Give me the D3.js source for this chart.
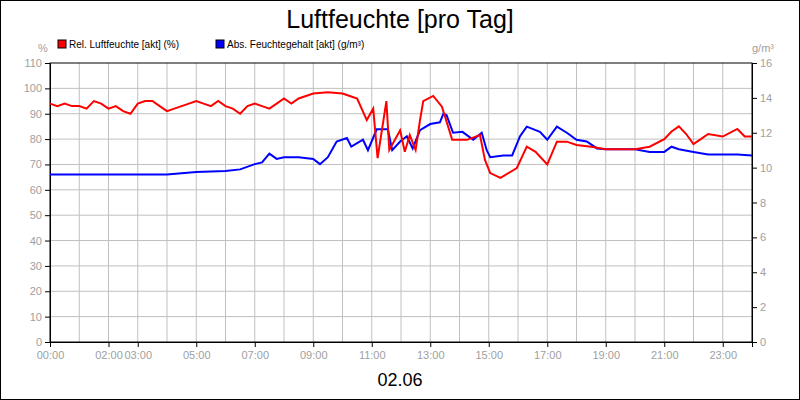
<!DOCTYPE html>
<html><head><meta charset="utf-8">
<script src="https://cdn.jsdelivr.net/npm/d3@7"></script>
<style>body{margin:0;background:#fff}text{font-family:"Liberation Sans",Arial,sans-serif}</style>
</head><body><svg id="gfx" width="800" height="400"></svg>
<script>
var tickHours = [0, 2, 3, 5, 7, 9, 11, 13, 15, 17, 19, 21, 23];
var leftTicks = [0, 10, 20, 30, 40, 50, 60, 70, 80, 90, 100, 110];
var rightTicks = [0, 2, 4, 6, 8, 10, 12, 14, 16];
var relHours = [0,0.25,0.5,0.75,1,1.25,1.5,1.75,2,2.25,2.5,2.75,3,3.25,3.5,3.75,4,4.25,4.5,4.75,5,5.25,5.5,5.75,6,6.25,6.5,6.75,7,7.25,7.5,7.75,8,8.25,8.5,8.75,9,9.5,10,10.25,10.5,10.83,11.05,11.2,11.5,11.6,11.97,12.13,12.3,12.5,12.65,12.76,13.1,13.4,13.75,14.25,14.7,14.87,15.05,15.4,15.96,16.3,16.6,17,17.33,17.67,18,18.5,19,19.5,20,20.5,21,21.25,21.5,21.75,22,22.25,22.5,23,23.5,23.75,24];
var relValues = [94,93,94,93,93,92,95,94,92,93,91,90,94,95,95,93,91,92,93,94,95,94,93,95,93,92,90,93,94,93,92,94,96,94,96,97,98,98.5,98,97,96,87.5,92,72.5,95,75.7,83.5,75,81.6,75.7,87.5,95,97,92.8,79.7,79.7,81.6,71.8,66.6,64.7,68.6,77,75,70,79,79,77.7,77,76,76,76,77,80,83,85,82,78,80,82,81,84,81,81];
var absHours = [0,1,2,3,4,5,6,6.5,7,7.25,7.5,7.75,8,8.5,9,9.23,9.5,9.8,10.15,10.3,10.7,10.87,11.17,11.55,11.7,11.97,12.2,12.4,12.65,13,13.33,13.45,13.56,13.78,14.1,14.47,14.76,14.93,15.05,15.5,15.8,16.07,16.3,16.75,17,17.33,17.67,18,18.35,18.7,19,20,20.5,21,21.25,21.5,22,22.5,23,23.5,24];
var absValues = [9.6,9.6,9.6,9.6,9.6,9.75,9.8,9.9,10.2,10.3,10.8,10.5,10.6,10.6,10.5,10.2,10.6,11.5,11.7,11.2,11.6,11.0,12.2,12.2,11.0,11.5,11.8,11.1,12.15,12.5,12.6,13.1,13.0,12.0,12.05,11.6,12.0,11.0,10.6,10.7,10.7,11.8,12.35,12.05,11.6,12.35,12.0,11.6,11.5,11.1,11.05,11.05,10.9,10.9,11.2,11.05,10.9,10.75,10.75,10.75,10.7];

var svg = d3.select("#gfx");
var m = {l: 50, r: 752, t: 63, b: 342};
var x = d3.scaleLinear().domain([0, 24]).range([m.l, m.r]);
var yL = d3.scaleLinear().domain([0, 110]).range([m.b, m.t]);
var yR = d3.scaleLinear().domain([0, 16]).range([m.b, m.t]);

svg.append("rect").attr("x", 0.5).attr("y", 0.5).attr("width", 799).attr("height", 399)
    .attr("fill", "#fff").attr("stroke", "#000");

// grid
svg.append("g").selectAll("line").data(d3.range(1, 24)).join("line")
    .attr("x1", d => x(d)).attr("x2", d => x(d)).attr("y1", m.t).attr("y2", m.b)
    .attr("stroke", "#c0c0c0");
svg.append("g").selectAll("line").data(leftTicks.slice(1, -1)).join("line")
    .attr("x1", m.l).attr("x2", m.r).attr("y1", d => yL(d)).attr("y2", d => yL(d))
    .attr("stroke", "#c0c0c0");
svg.append("rect").attr("x", m.l).attr("y", m.t).attr("width", m.r - m.l).attr("height", m.b - m.t)
    .attr("fill", "none").attr("stroke", "#000");

// axes
var axL = svg.append("g").attr("transform", "translate(" + m.l + ",0)")
    .call(d3.axisLeft(yL).tickValues(leftTicks).tickSize(5).tickPadding(3));
var axR = svg.append("g").attr("transform", "translate(" + m.r + ",0)")
    .call(d3.axisRight(yR).tickValues(rightTicks).tickSize(5).tickPadding(3));
var axB = svg.append("g").attr("transform", "translate(0," + m.b + ")")
    .call(d3.axisBottom(x).tickValues(tickHours).tickSize(5).tickPadding(4)
        .tickFormat(d => String(d).padStart(2, "0") + ":00"));
[axL, axR, axB].forEach(function(a) {
    a.select(".domain").attr("stroke", "#000");
    a.selectAll(".tick line").attr("stroke", "#000");
    a.selectAll("text").attr("fill", "#a0a0a0").style("font-size", "11px");
});
svg.selectAll(".tick text").style("font-family", '"Liberation Sans",Arial,sans-serif');

// lines
var lineL = d3.line().x((d, i) => x(relHours[i])).y(d => yL(d));
var lineR = d3.line().x((d, i) => x(absHours[i])).y(d => yR(d));
svg.append("path").datum(absValues).attr("d", lineR).attr("fill", "none")
    .attr("stroke", "#0000ff").attr("stroke-width", 2);
svg.append("path").datum(relValues).attr("d", lineL).attr("fill", "none")
    .attr("stroke", "#ff0000").attr("stroke-width", 2);

// text
svg.append("text").attr("x", 400).attr("y", 28).attr("text-anchor", "middle")
    .style("font-size", "25px").text("Luftfeuchte [pro Tag]");
svg.append("text").attr("x", 400).attr("y", 386).attr("text-anchor", "middle")
    .style("font-size", "18px").text("02.06");
svg.append("text").attr("x", 38).attr("y", 52).attr("fill", "#a0a0a0").style("font-size", "11px").text("%");
svg.append("text").attr("x", 752).attr("y", 52).attr("fill", "#a0a0a0").style("font-size", "11px").text("g/m³");

var legend = [{c: "#ff0000", t: "Rel. Luftfeuchte [akt] (%)", x: 58}, {c: "#0000ff", t: "Abs. Feuchtegehalt [akt] (g/m³)", x: 216}];
var lg = svg.append("g").selectAll("g").data(legend).join("g")
    .attr("transform", d => "translate(" + d.x + ",40)");
lg.append("rect").attr("width", 8).attr("height", 8).attr("fill", d => d.c).attr("stroke", "#000");
lg.append("text").attr("x", 11).attr("y", 8).style("font-size", "10px").text(d => d.t);
</script></body></html>
